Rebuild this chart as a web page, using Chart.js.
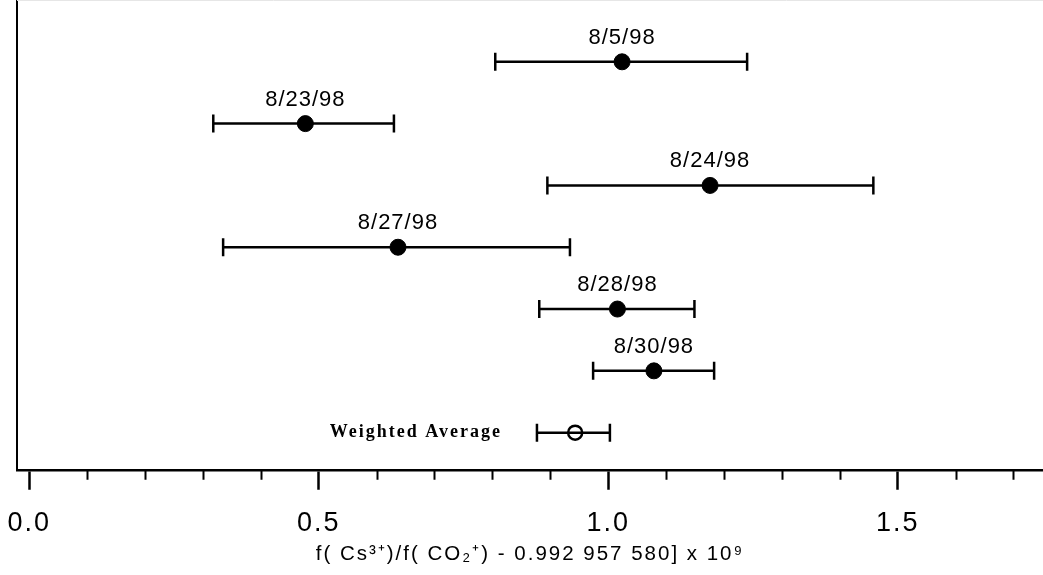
<!DOCTYPE html>
<html>
<head>
<meta charset="utf-8">
<script src="https://cdn.jsdelivr.net/npm/chart.js@4"></script>
<style>
  html, body { margin: 0; padding: 0; background: #fff; }
  #wrap { width: 1043px; height: 575px; position: relative; }
</style>
</head>
<body>
<div id="wrap"><canvas id="errChart"></canvas></div>
<script>
// measurement dates, top to bottom
const dates = ['8/5/98', '8/23/98', '8/24/98', '8/27/98', '8/28/98', '8/30/98'];
const values = [1.024, 0.477, 1.176, 0.637, 1.016, 1.079];
const lows = [0.805, 0.318, 0.895, 0.335, 0.881, 0.974];
const highs = [1.240, 0.630, 1.458, 0.934, 1.149, 1.183];

// weighted average row
const avgLabel = 'Weighted Average';
const avgValue = [0.943];
const avgLow = [0.877];
const avgHigh = [1.003];

// x axis ticks
const majorTicks = [0, 0.5, 1.0, 1.5];
const tickLabels = ['0.0', '0.5', '1.0', '1.5'];
const minorTicks = [0.1, 0.2, 0.3, 0.4, 0.6, 0.7, 0.8, 0.9, 1.1, 1.2, 1.3, 1.4, 1.6, 1.7];
const xTitle = 'f( Cs\u00B3\u207A)/f( CO\u2082\u207A) - 0.992 957 580] x 10\u2079';

const avgRow = dates.length + 1;

// one line dataset per error bar, caps drawn as rotated line points
const barSets = dates.map((d, i) => ({
  data: [{ x: lows[i], y: i + 1 }, { x: highs[i], y: i + 1 }],
  showLine: true,
  borderColor: '#000',
  borderWidth: 2.5,
  pointStyle: 'line',
  pointRotation: 90,
  pointRadius: 9,
  pointBorderWidth: 2.5,
  pointBorderColor: '#000'
}));

barSets.push({
  data: [{ x: avgLow[0], y: avgRow }, { x: avgHigh[0], y: avgRow }],
  showLine: true,
  borderColor: '#000',
  borderWidth: 2.5,
  pointStyle: 'line',
  pointRotation: 90,
  pointRadius: 9,
  pointBorderWidth: 2.5,
  pointBorderColor: '#000'
});

const pointSet = {
  data: values.map((v, i) => ({ x: v, y: i + 1 })),
  pointRadius: 8,
  pointBackgroundColor: '#000',
  pointBorderColor: '#000',
  pointBorderWidth: 1
};

const avgSet = {
  data: [{ x: avgValue[0], y: avgRow }],
  pointRadius: 7,
  pointBackgroundColor: '#fff',
  pointBorderColor: '#000',
  pointBorderWidth: 2.5
};

const labelPlugin = {
  id: 'labels',
  beforeDraw(chart) {
    chart.ctx.save();
    chart.ctx.letterSpacing = '2px';
  },
  afterDraw(chart) {
    const ctx = chart.ctx;
    const xs = chart.scales.x;
    const ys = chart.scales.y;
    ctx.save();
    ctx.fillStyle = '#000';
    ctx.textAlign = 'center';
    ctx.textBaseline = 'middle';
    ctx.letterSpacing = '1px';
    ctx.font = '22px "Liberation Sans", Arial, sans-serif';
    dates.forEach((d, i) => {
      ctx.fillText(d, xs.getPixelForValue(values[i]), ys.getPixelForValue(i + 1) - 24);
    });
    ctx.textAlign = 'right';
    ctx.letterSpacing = '2px';
    ctx.font = 'bold 18px "Liberation Serif", "Times New Roman", serif';
    ctx.fillText(avgLabel, xs.getPixelForValue(avgLow[0]) - 35, ys.getPixelForValue(avgRow));

    // minor tick marks
    ctx.strokeStyle = '#000';
    ctx.lineWidth = 2;
    const b = chart.chartArea.bottom;
    minorTicks.forEach(v => {
      const px = Math.round(xs.getPixelForValue(v)) + 0.5;
      ctx.beginPath();
      ctx.moveTo(px, b);
      ctx.lineTo(px, b + 10);
      ctx.stroke();
    });

    // faint frame line along the top
    ctx.strokeStyle = '#e6e6e6';
    ctx.lineWidth = 1;
    ctx.beginPath();
    ctx.moveTo(chart.chartArea.left, 0.5);
    ctx.lineTo(chart.width, 0.5);
    ctx.stroke();
    ctx.restore();
    ctx.restore();
  }
};

new Chart(document.getElementById('errChart'), {
  type: 'scatter',
  data: { datasets: [...barSets, pointSet, avgSet] },
  options: {
    responsive: true,
    maintainAspectRatio: false,
    animation: false,
    layout: { autoPadding: false, padding: { left: 17, right: 0, top: 0, bottom: 16 } },
    plugins: {
      legend: { display: false },
      tooltip: { enabled: false }
    },
    scales: {
      x: {
        type: 'linear',
        min: -0.021,
        max: 1.751,
        afterBuildTicks(scale) {
          scale.ticks = majorTicks.map(v => ({ value: v }));
        },
        afterFit(scale) {
          // let the first tick label sit in the left margin
          scale.paddingLeft = 0;
          scale.paddingRight = 0;
        },
        grid: {
          drawOnChartArea: false,
          drawTicks: true,
          tickLength: 20,
          tickWidth: 2.5,
          tickColor: '#000'
        },
        border: { display: true, color: '#000', width: 2.5 },
        ticks: {
          autoSkip: false,
          maxRotation: 0,
          padding: 20,
          color: '#000',
          font: { family: '"Liberation Sans", Arial, sans-serif', size: 27, lineHeight: 1.0 },
          callback(value) {
            const k = majorTicks.indexOf(value);
            return k >= 0 ? tickLabels[k] : '';
          }
        },
        title: {
          display: true,
          text: xTitle,
          color: '#000',
          font: { family: '"Liberation Sans", Arial, sans-serif', size: 20.5, lineHeight: 0.5 },
          padding: { top: -8, bottom: 0 }
        }
      },
      y: {
        type: 'linear',
        reverse: true,
        min: 0,
        max: 7.6,
        grid: { display: false, drawTicks: false },
        border: { display: true, color: '#000', width: 2 },
        ticks: { display: false }
      }
    }
  },
  plugins: [labelPlugin]
});
</script>
</body>
</html>
